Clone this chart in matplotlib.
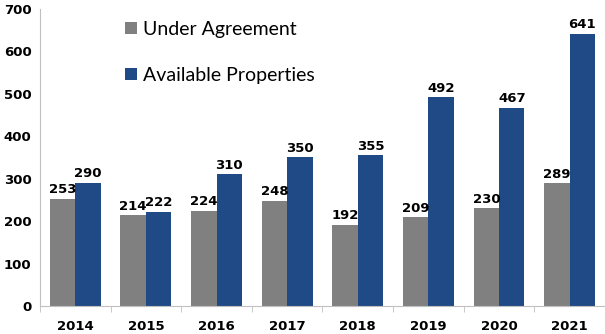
import numpy as np
import matplotlib.pyplot as plt

years = ["2014", "2015", "2016", "2017", "2018", "2019", "2020", "2021"]
under_agreement = [253, 214, 224, 248, 192, 209, 230, 289]
available = [290, 222, 310, 350, 355, 492, 467, 641]

gray = "#808080"
blue = "#1f4a86"

fig = plt.figure(figsize=(6.05, 3.34), dpi=100)
ax = fig.add_axes([0.066, 0.084, 0.934, 0.889])

x = np.arange(len(years))
w = 0.36
b1 = ax.bar(x - w / 2, under_agreement, w, color=gray, label="Under Agreement")
b2 = ax.bar(x + w / 2, available, w, color=blue, label="Available Properties")

for rect, v in zip(b1, under_agreement):
    ax.text(rect.get_x() + rect.get_width() / 2, v + 6, str(v), ha="center", va="bottom",
            fontsize=9.5, fontweight="bold")
for rect, v in zip(b2, available):
    ax.text(rect.get_x() + rect.get_width() / 2, v + 6, str(v), ha="center", va="bottom",
            fontsize=9.5, fontweight="bold")

ax.set_xlim(-0.5, len(years) - 0.5)
ax.set_ylim(0, 700)
ax.set_yticks(range(0, 701, 100))
ax.set_xticks(x)
ax.set_xticklabels(years)
ax.set_xticks(np.arange(-0.5, len(years), 1.0), minor=True)
ax.tick_params(axis="x", which="major", length=0, pad=10)
ax.tick_params(axis="x", which="minor", length=4, color="#c0c0c0")
ax.tick_params(axis="y", length=0, pad=6)
for lab in ax.get_xticklabels() + ax.get_yticklabels():
    lab.set_fontweight("bold")
    lab.set_fontsize(9.5)

for s in ["top", "right"]:
    ax.spines[s].set_visible(False)
ax.spines["left"].set_color("#c0c0c0")
ax.spines["bottom"].set_color("#c0c0c0")

ax.legend(loc="upper left", bbox_to_anchor=(0.12, 1.02), frameon=False,
          handlelength=0.6, handleheight=0.6, handletextpad=0.3, labelspacing=1.5,
          prop={"family": "Lato", "size": 14})

fig.savefig("out.png", dpi=100)
